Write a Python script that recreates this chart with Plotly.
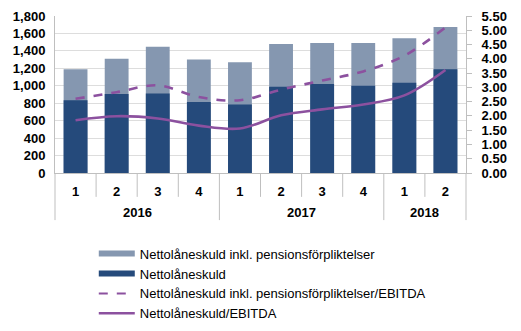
import plotly.graph_objects as go

# Quarter / year categories
years = ["2016", "2016", "2016", "2016", "2017", "2017", "2017", "2017", "2018", "2018"]
quarters = ["1", "2", "3", "4", "1", "2", "3", "4", "1", "2"]

# Net debt (MSEK)
netto_inkl_pension = [1190, 1310, 1448, 1300, 1270, 1480, 1490, 1490, 1545, 1675]
netto = [835, 905, 912, 815, 785, 990, 1020, 1000, 1035, 1190]

# Ratios to EBITDA
ratio_inkl_pension = [2.60, 2.83, 3.07, 2.66, 2.55, 2.92, 3.24, 3.56, 4.11, 5.10]
ratio_netto = [1.85, 1.99, 1.91, 1.66, 1.56, 2.02, 2.23, 2.40, 2.72, 3.61]

left_ticks = list(range(0, 1801, 200))
right_ticks = [i * 0.5 for i in range(12)]

LIGHT = "#8597B0"
DARK = "#254A7B"
PURPLE = "#8C519F"
AXIS = "#BFBFBF"
GRID = "#DDDDDD"
FONT = "Liberation Sans, Arial, sans-serif"

# One category per quarter, labelled with the quarter number
periods = [f"{y} Q{q}" for y, q in zip(years, quarters)]
n = len(periods)

fig = go.Figure()
fig.add_trace(go.Bar(x=periods, y=netto_inkl_pension, marker_color=LIGHT,
                     marker_line_width=0, showlegend=False,
                     name="Nettolåneskuld inkl. pensionsförpliktelser"))
fig.add_trace(go.Bar(x=periods, y=netto, marker_color=DARK,
                     marker_line_width=0, showlegend=False, name="Nettolåneskuld"))
fig.add_trace(go.Scatter(x=periods, y=ratio_inkl_pension, yaxis="y2", mode="lines",
                         line=dict(color=PURPLE, width=2.6, dash="dash", shape="spline"),
                         showlegend=False))
fig.add_trace(go.Scatter(x=periods, y=ratio_netto, yaxis="y2", mode="lines",
                         line=dict(color=PURPLE, width=2.6, shape="spline"),
                         showlegend=False))

# Legend entries drawn as thick strokes, kept on a hidden axis pair
legend_items = [
    ("Nettolåneskuld inkl. pensionsförpliktelser", LIGHT, 6, "solid"),
    ("Nettolåneskuld", DARK, 6, "solid"),
    ("Nettolåneskuld inkl. pensionsförpliktelser/EBITDA", PURPLE, 2, "dash"),
    ("Nettolåneskuld/EBITDA", PURPLE, 2.5, "solid"),
]
for name, color, w, dash in legend_items:
    fig.add_trace(go.Scatter(x=[None], y=[None], mode="lines", name=name,
                             xaxis="x2", yaxis="y3",
                             line=dict(color=color, width=w, dash=dash)))

# Year groups: label under each group, long dividers at group edges,
# short dividers between quarters inside a group
group_edges = [0] + [i for i in range(1, n) if years[i] != years[i - 1]] + [n]
for a, b in zip(group_edges[:-1], group_edges[1:]):
    fig.add_annotation(x=(a + b - 1) / 2, xref="x", y=-0.253, yref="paper",
                       text=years[a], showarrow=False, yanchor="middle",
                       font=dict(size=13, family=FONT, weight="bold", color="black"))
for e in group_edges:
    fig.add_shape(type="line", xref="paper", yref="paper",
                  x0=e / n, x1=e / n, y0=0, y1=-0.3,
                  line=dict(color=AXIS, width=1))
for i in range(1, n):
    if i in group_edges:
        continue
    fig.add_shape(type="line", xref="paper", yref="paper",
                  x0=i / n, x1=i / n, y0=0, y1=-0.152,
                  line=dict(color=AXIS, width=1))

fig.update_layout(
    width=521, height=331,
    margin=dict(l=55, r=55, t=16, b=158, autoexpand=False),
    paper_bgcolor="white", plot_bgcolor="white",
    barmode="overlay", bargap=0.42,
    font=dict(family=FONT, size=13, color="black"),
    xaxis=dict(type="category", tickvals=periods, ticktext=quarters,
               showline=True, linecolor=AXIS, ticks="",
               tickfont=dict(size=13, family=FONT, weight="bold"),
               ticklabelstandoff=6, range=[-0.5, n - 0.5],
               automargin=False, tickangle=0),
    yaxis=dict(range=[0, 1800], tickvals=left_ticks, tickformat=",d",
               showgrid=True, gridcolor=GRID, gridwidth=1,
               showline=True, linecolor=AXIS, zeroline=False,
               ticks="", ticklabelstandoff=6, automargin=False,
               tickfont=dict(size=13, family=FONT, weight="bold")),
    yaxis2=dict(range=[0, 5.5], tickvals=right_ticks, tickformat=".2f",
                overlaying="y", side="right", showgrid=False,
                showline=True, linecolor=AXIS, zeroline=False,
                ticks="outside", ticklen=5, tickcolor=AXIS, ticklabelstandoff=7,
                automargin=False,
                tickfont=dict(size=13, family=FONT, weight="bold")),
    xaxis2=dict(visible=False, overlaying="x", range=[0, 1]),
    yaxis3=dict(visible=False, overlaying="y", range=[0, 1]),
    legend=dict(xref="container", yref="container", x=0.18, y=0.279,
                xanchor="left", yanchor="top", traceorder="normal",
                itemwidth=36, tracegroupgap=0,
                font=dict(size=13, family=FONT), bgcolor="rgba(0,0,0,0)"),
)

fig.write_html("out.html")
